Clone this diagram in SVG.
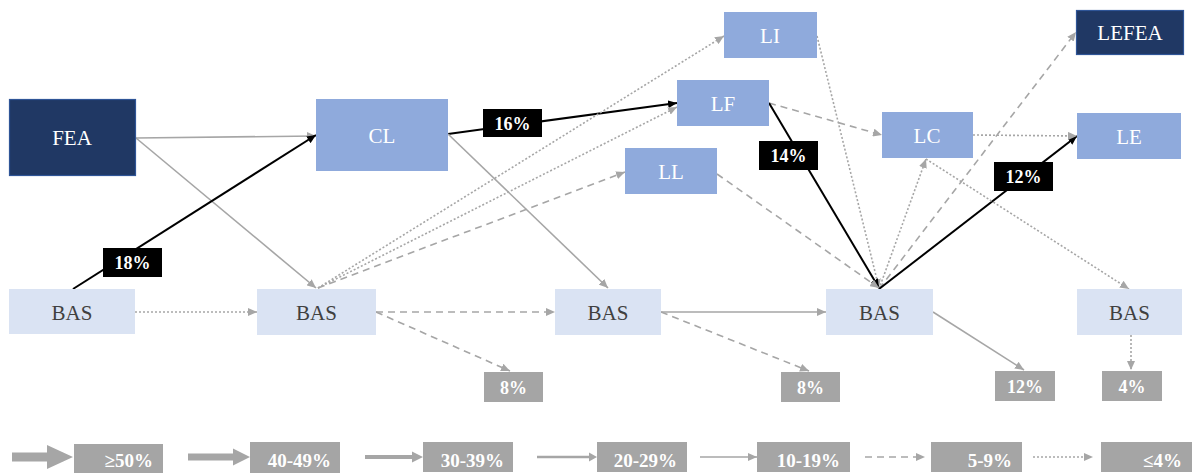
<svg xmlns="http://www.w3.org/2000/svg" width="1194" height="473" viewBox="0 0 1194 473">
<style>
.dark{fill:#203864;stroke:#2f5597;stroke-width:1.2}
.mid{fill:#8faadc}
.light{fill:#dae3f3}
.term{fill:#a5a5a5}
.nt{font-family:"Liberation Serif",serif;font-size:21px;text-anchor:middle;fill:#ffffff}
.bt{font-family:"Liberation Serif",serif;font-size:21px;text-anchor:middle;fill:#404040}
.lt{font-family:"Liberation Serif",serif;font-size:18px;font-weight:bold;text-anchor:middle;fill:#ffffff}
.gt{font-family:"Liberation Serif",serif;font-size:19px;font-weight:bold;text-anchor:end;fill:#ffffff}
.g{fill:none;stroke:#a6a6a6;stroke-width:1.6;marker-end:url(#ag)}
.ds{stroke-dasharray:7,5}
.dt{stroke-dasharray:2,2}
.k{fill:none;stroke:#000000;stroke-width:2;marker-end:url(#ak)}
</style>
<defs>
<marker id="ag" markerUnits="userSpaceOnUse" markerWidth="10" markerHeight="8" refX="9" refY="4" orient="auto">
<path d="M0,0 L9,4 L0,8 z" fill="#a6a6a6"/>
</marker>
<marker id="ak" markerUnits="userSpaceOnUse" markerWidth="10" markerHeight="8" refX="9" refY="4" orient="auto">
<path d="M0,0 L9,4 L0,8 z" fill="#000000"/>
</marker>
</defs>
<rect width="1194" height="473" fill="#ffffff"/>
<g id="connectors">
<line class="g" x1="136" y1="138" x2="316" y2="136"/>
<line class="g" x1="136" y1="138" x2="316" y2="288"/>
<line class="k" x1="73" y1="289" x2="316" y2="135"/>
<line class="g dt" x1="135" y1="312" x2="257" y2="312"/>
<line class="k" x1="448" y1="134" x2="677" y2="103"/>
<line class="g" x1="448" y1="134" x2="608" y2="288"/>
<line class="g dt" x1="318" y1="288" x2="724" y2="36"/>
<line class="g dt" x1="318" y1="288" x2="677" y2="107"/>
<line class="g ds" x1="318" y1="288" x2="625" y2="172"/>
<line class="g ds" x1="376" y1="312" x2="555" y2="312"/>
<line class="g ds" x1="376" y1="312" x2="510" y2="371"/>
<line class="g dt" x1="817" y1="36" x2="879" y2="288"/>
<line class="g ds" x1="769" y1="103" x2="882" y2="135"/>
<line class="k" x1="769" y1="103" x2="879" y2="288"/>
<line class="g ds" x1="717" y1="174" x2="879" y2="288"/>
<line class="g" x1="661" y1="312" x2="826" y2="312"/>
<line class="g ds" x1="661" y1="312" x2="809" y2="371"/>
<line class="g dt" x1="879" y1="289" x2="926" y2="159"/>
<line class="g ds" x1="879" y1="289" x2="1076" y2="32"/>
<line class="k" x1="879" y1="289" x2="1077" y2="136"/>
<line class="g dt" x1="973" y1="135" x2="1077" y2="136"/>
<line class="g dt" x1="926" y1="159" x2="1129" y2="289"/>
<line class="g" x1="933" y1="312" x2="1024" y2="370"/>
<line class="g dt" x1="1131" y1="335" x2="1131" y2="370"/>
</g>
<g id="edge-labels">
<rect x="103" y="248" width="59" height="29" fill="#000"/>
<text class="lt" x="132.5" y="269">18%</text>
<rect x="483" y="109" width="59" height="28" fill="#000"/>
<text class="lt" x="512.5" y="130">16%</text>
<rect x="759" y="141" width="59" height="29" fill="#000"/>
<text class="lt" x="788.5" y="162">14%</text>
<rect x="994" y="162" width="59" height="29" fill="#000"/>
<text class="lt" x="1023.5" y="183">12%</text>
</g>
<g id="FEA"><rect class="dark" x="9.5" y="99.5" width="126" height="76"/><text class="nt" x="72" y="145">FEA</text></g>
<g id="CL"><rect class="mid" x="316" y="99" width="132" height="72"/><text class="nt" x="382" y="143">CL</text></g>
<g id="LI"><rect class="mid" x="724" y="12" width="93" height="46"/><text class="nt" x="770" y="43">LI</text></g>
<g id="LF"><rect class="mid" x="677" y="80" width="92" height="46"/><text class="nt" x="723" y="111">LF</text></g>
<g id="LL"><rect class="mid" x="625" y="148" width="92" height="46"/><text class="nt" x="671" y="179">LL</text></g>
<g id="LC"><rect class="mid" x="882" y="112" width="91" height="46"/><text class="nt" x="927" y="143">LC</text></g>
<g id="LEFEA"><rect class="dark" x="1076.5" y="10.5" width="107" height="44"/><text class="nt" x="1130" y="40">LEFEA</text></g>
<g id="LE"><rect class="mid" x="1077" y="113" width="104" height="46"/><text class="nt" x="1129" y="144">LE</text></g>
<g id="BAS1"><rect class="light" x="9" y="289" width="126" height="45"/><text class="bt" x="72" y="320">BAS</text></g>
<g id="BAS2"><rect class="light" x="257" y="289" width="119" height="46"/><text class="bt" x="316.5" y="320">BAS</text></g>
<g id="BAS3"><rect class="light" x="555" y="289" width="106" height="46"/><text class="bt" x="608" y="320">BAS</text></g>
<g id="BAS4"><rect class="light" x="826" y="289" width="107" height="46"/><text class="bt" x="879.5" y="320">BAS</text></g>
<g id="BAS5"><rect class="light" x="1077" y="289" width="105" height="46"/><text class="bt" x="1129.5" y="320">BAS</text></g>
<g id="T1"><rect class="term" x="484" y="372" width="59" height="30"/><text class="lt" x="513.5" y="394">8%</text></g>
<g id="T2"><rect class="term" x="781" y="372" width="59" height="30"/><text class="lt" x="810.5" y="394">8%</text></g>
<g id="T3"><rect class="term" x="995" y="371" width="60" height="30"/><text class="lt" x="1025" y="393">12%</text></g>
<g id="T4"><rect class="term" x="1102" y="371" width="60" height="30"/><text class="lt" x="1132" y="393">4%</text></g>
<g id="legend">
<polygon points="12,452.5 47,452.5 47,445 73,457 47,469 47,461.5 12,461.5" fill="#a6a6a6"/>
<rect class="term" x="74" y="444" width="89" height="29"/><text class="gt" x="153" y="467">≥50%</text>
<polygon points="188,453.5 233,453.5 233,448.5 250,457 233,465.5 233,460.5 188,460.5" fill="#a6a6a6"/>
<rect class="term" x="250" y="442" width="90" height="31"/><text class="gt" x="331" y="467">40-49%</text>
<polygon points="365,455 412,455 412,451.5 423,457 412,462.5 412,459 365,459" fill="#a6a6a6"/>
<rect class="term" x="423" y="442" width="90" height="30"/><text class="gt" x="504" y="467">30-39%</text>
<polygon points="537,455.7 589,455.7 589,452.5 597,457 589,461.5 589,458.3 537,458.3" fill="#a6a6a6"/>
<rect class="term" x="597" y="442" width="90" height="30"/><text class="gt" x="677" y="467">20-29%</text>
<line class="g" x1="700" y1="457" x2="757" y2="457"/>
<rect class="term" x="757" y="442" width="93" height="30"/><text class="gt" x="840" y="467">10-19%</text>
<line class="g ds" x1="865" y1="457" x2="925" y2="457"/>
<rect class="term" x="931" y="442" width="91" height="30"/><text class="gt" x="1012" y="467">5-9%</text>
<line class="g dt" x1="1033" y1="457" x2="1093" y2="457"/>
<rect class="term" x="1101" y="442" width="91" height="30"/><text class="gt" x="1182" y="467">≤4%</text>
</g>
</svg>
